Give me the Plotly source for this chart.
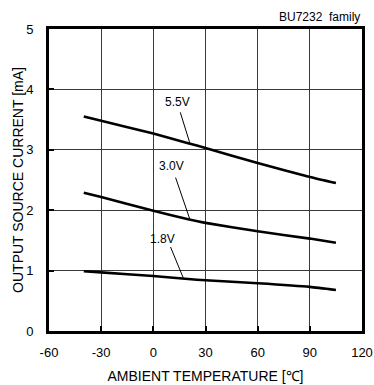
import plotly.graph_objects as go

# Ambient temperature sample points [°C]
temp = [-40, -30, 0, 20, 30, 60, 90, 105]

# Output source current [mA] at each supply voltage
i_55 = [3.55, 3.48, 3.27, 3.11, 3.03, 2.78, 2.55, 2.45]
i_30 = [2.29, 2.22, 1.99, 1.85, 1.79, 1.65, 1.53, 1.46]
i_18 = [0.99, 0.97, 0.91, 0.86, 0.84, 0.79, 0.73, 0.68]

# Curve labels: text, text position, leader start and leader end on the curve
labels = ["5.5V", "3.0V", "1.8V"]
label_x = [14.1, 10.5, 5.5]
label_y = [3.79, 2.73, 1.52]
lead_x0 = [15.5, 12.8, 9.9]
lead_y0 = [3.62, 2.54, 1.39]
lead_x1 = [21.0, 21.0, 17.2]
lead_y1 = [3.11, 1.85, 0.88]

x_ticks = [-60, -30, 0, 30, 60, 90, 120]
y_ticks = [0, 1, 2, 3, 4, 5]

FONT = "Liberation Sans, Arial, Helvetica, sans-serif"

fig = go.Figure()
for ys in (i_55, i_30, i_18):
    fig.add_trace(go.Scatter(x=temp, y=ys, mode="lines",
                             line=dict(color="black", width=2.6, shape="spline", smoothing=0.5),
                             hoverinfo="skip", showlegend=False))

for k, txt in enumerate(labels):
    fig.add_trace(go.Scatter(x=[lead_x0[k], lead_x1[k]], y=[lead_y0[k], lead_y1[k]],
                             mode="lines", line=dict(color="black", width=1),
                             hoverinfo="skip", showlegend=False))
    fig.add_annotation(x=label_x[k], y=label_y[k], text=txt, showarrow=False,
                       xanchor="center", yanchor="middle",
                       font=dict(size=12, color="black", family=FONT))

fig.add_annotation(xref="paper", yref="paper", x=1.0, y=1.0, yshift=3, xshift=0,
                   xanchor="right", yanchor="bottom", showarrow=False,
                   text="BU7232\u00a0\u00a0family", font=dict(size=12, color="black", family=FONT))

axis_common = dict(showgrid=True, gridcolor="#3a3a3a", gridwidth=1,
                   showline=True, linecolor="black", linewidth=2.6, mirror=True,
                   ticks="inside", ticklen=5, tickwidth=2, tickcolor="black",
                   zeroline=False, automargin=False,
                   tickfont=dict(size=13, color="black", family=FONT))

fig.update_xaxes(range=[-60, 120], tickvals=x_ticks, ticktext=[str(v) for v in x_ticks],
                 title=dict(text="AMBIENT TEMPERATURE [℃]", standoff=12,
                            font=dict(size=14, color="black", family=FONT)),
                 ticklabelstandoff=8, **axis_common)
fig.update_yaxes(range=[0, 5], tickvals=y_ticks, ticktext=[str(v) for v in y_ticks],
                 title=dict(text="OUTPUT SOURCE CURRENT [mA]", standoff=0,
                            font=dict(size=14, color="black", family=FONT)),
                 ticklabelstandoff=10, **axis_common)

fig.update_layout(width=374, height=385, margin=dict(l=49, r=12, t=29, b=54),
                  paper_bgcolor="white", plot_bgcolor="white",
                  font=dict(family=FONT, color="black"))

fig.write_html("out.html")
